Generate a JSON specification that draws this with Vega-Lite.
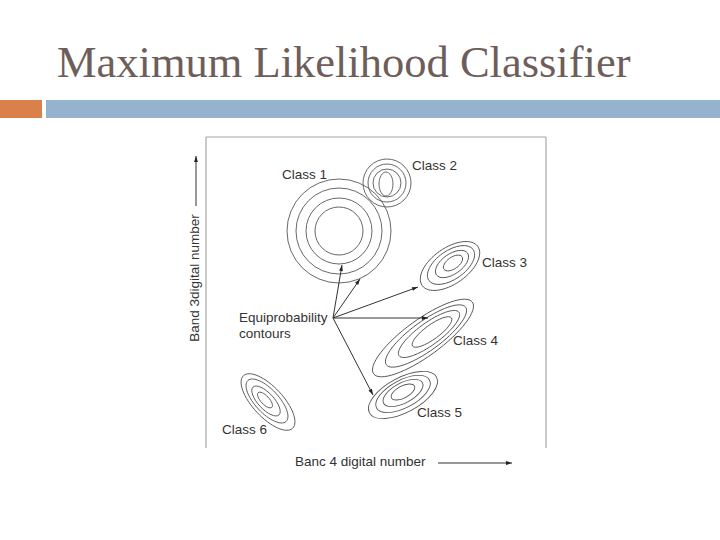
{
  "$schema": "https://vega.github.io/schema/vega-lite/v6.json",
  "width": 720,
  "height": 540,
  "autosize": {"type": "fit", "contains": "padding"},
  "padding": 0,
  "background": "white",
  "config": {"view": {"stroke": null}},
  "datasets": {
    "bars": [
      {"x": 0, "x2": 42, "y": 100, "y2": 118, "part": "accent"},
      {"x": 46, "x2": 720, "y": 100, "y2": 118, "part": "band"}
    ],
    "frame": [
      {"x": 206, "y": 137, "x2": 206, "y2": 448},
      {"x": 206, "y": 137, "x2": 546, "y2": 137},
      {"x": 546, "y": 137, "x2": 546, "y2": 448}
    ],
    "contours": [
      {"cls": "Class 1", "x": 339, "y": 231, "a": 52, "angle": 0, "form": "circle"},
      {"cls": "Class 1", "x": 339, "y": 231, "a": 43, "angle": 0, "form": "circle"},
      {"cls": "Class 1", "x": 339, "y": 231, "a": 33, "angle": 0, "form": "circle"},
      {"cls": "Class 1", "x": 339, "y": 231, "a": 24, "angle": 0, "form": "circle"},
      {"cls": "Class 2", "x": 387, "y": 183, "a": 24, "angle": 0, "form": "circle"},
      {"cls": "Class 2", "x": 387, "y": 183, "a": 19, "angle": 0, "form": "circle"},
      {"cls": "Class 2", "x": 387, "y": 183, "a": 14, "angle": 0, "form": "circle"},
      {"cls": "Class 2", "x": 386, "y": 184, "a": 12, "angle": 90, "form": "core"},
      {"cls": "Class 3", "x": 450, "y": 266, "a": 34, "angle": -35, "form": "c3"},
      {"cls": "Class 3", "x": 451, "y": 265, "a": 27, "angle": -35, "form": "c3"},
      {"cls": "Class 3", "x": 452, "y": 264, "a": 19, "angle": -35, "form": "c3"},
      {"cls": "Class 3", "x": 453, "y": 263, "a": 11, "angle": -35, "form": "c3"},
      {"cls": "Class 4", "x": 423, "y": 338, "a": 61, "angle": -36, "form": "c4"},
      {"cls": "Class 4", "x": 426, "y": 336, "a": 49, "angle": -36, "form": "c4"},
      {"cls": "Class 4", "x": 429, "y": 334, "a": 37, "angle": -36, "form": "c4"},
      {"cls": "Class 4", "x": 432, "y": 332, "a": 24, "angle": -36, "form": "c4"},
      {"cls": "Class 5", "x": 403, "y": 395, "a": 38, "angle": -28, "form": "c5"},
      {"cls": "Class 5", "x": 403, "y": 394, "a": 30, "angle": -28, "form": "c5"},
      {"cls": "Class 5", "x": 403, "y": 393, "a": 22, "angle": -28, "form": "c5"},
      {"cls": "Class 5", "x": 403, "y": 392, "a": 13, "angle": -28, "form": "c5"},
      {"cls": "Class 6", "x": 268, "y": 402, "a": 36, "angle": 47, "form": "c6"},
      {"cls": "Class 6", "x": 267, "y": 401, "a": 28, "angle": 47, "form": "c6"},
      {"cls": "Class 6", "x": 266, "y": 401, "a": 19, "angle": 47, "form": "c6"},
      {"cls": "Class 6", "x": 265, "y": 400, "a": 10, "angle": 47, "form": "c6"}
    ],
    "arrows": [
      {"x": 333, "y": 318, "x2": 342, "y2": 265},
      {"x": 333, "y": 318, "x2": 360, "y2": 279},
      {"x": 333, "y": 318, "x2": 418, "y2": 287},
      {"x": 333, "y": 318, "x2": 428, "y2": 318},
      {"x": 333, "y": 318, "x2": 373, "y2": 395},
      {"x": 196, "y": 206, "x2": 196, "y2": 156},
      {"x": 438, "y": 463, "x2": 512, "y2": 463}
    ],
    "labels": [
      {"x": 282, "y": 175, "text": "Class 1"},
      {"x": 412, "y": 166, "text": "Class 2"},
      {"x": 482, "y": 263, "text": "Class 3"},
      {"x": 453, "y": 341, "text": "Class 4"},
      {"x": 417, "y": 413, "text": "Class 5"},
      {"x": 222, "y": 430, "text": "Class 6"},
      {"x": 239, "y": 318, "text": "Equiprobability"},
      {"x": 239, "y": 334, "text": "contours"},
      {"x": 295, "y": 462, "text": "Banc 4 digital number"}
    ]
  },
  "encoding": {
    "x": {"field": "x", "type": "quantitative", "scale": {"domain": [0, 720], "nice": false, "zero": false}, "axis": null},
    "y": {"field": "y", "type": "quantitative", "scale": {"domain": [0, 540], "nice": false, "zero": false, "reverse": true}, "axis": null}
  },
  "layer": [
    {
      "data": {"name": "bars"},
      "mark": {"type": "rect"},
      "encoding": {
        "x2": {"field": "x2"},
        "y2": {"field": "y2"},
        "color": {"field": "part", "type": "nominal", "scale": {"domain": ["accent", "band"], "range": ["#d9804b", "#95b3cf"]}, "legend": null}
      }
    },
    {
      "data": {"name": "frame"},
      "mark": {"type": "rule", "color": "#a6a6a6", "strokeWidth": 1.2},
      "encoding": {
        "x2": {"field": "x2"},
        "y2": {"field": "y2"}
      }
    },
    {
      "data": {"name": "contours"},
      "mark": {"type": "point", "filled": false, "color": "#575757", "strokeWidth": 0.9, "opacity": 1},
      "encoding": {
        "size": {"field": "a", "type": "quantitative", "scale": {"type": "pow", "exponent": 2, "domain": [0, 100], "range": [0, 40000]}, "legend": null},
        "angle": {"field": "angle", "type": "quantitative", "scale": null},
        "shape": {
          "field": "form", "type": "nominal", "legend": null,
          "scale": {
            "domain": ["circle", "core", "c3", "c4", "c5", "c6"],
            "range": [
              "circle",
              "M -1 0 C -1 -0.3203 -0.5523 -0.58 0 -0.58 C 0.5523 -0.58 1 -0.3203 1 0 C 1 0.3203 0.5523 0.58 0 0.58 C -0.5523 0.58 -1 0.3203 -1 0 Z",
              "M -1 0 C -1 -0.2927 -0.5523 -0.53 0 -0.53 C 0.5523 -0.53 1 -0.2927 1 0 C 1 0.2927 0.5523 0.53 0 0.53 C -0.5523 0.53 -1 0.2927 -1 0 Z",
              "M -1 0 C -1 -0.1657 -0.5523 -0.3 0 -0.3 C 0.5523 -0.3 1 -0.1657 1 0 C 1 0.1657 0.5523 0.3 0 0.3 C -0.5523 0.3 -1 0.1657 -1 0 Z",
              "M -1 0 C -1 -0.2541 -0.5523 -0.46 0 -0.46 C 0.5523 -0.46 1 -0.2541 1 0 C 1 0.2541 0.5523 0.46 0 0.46 C -0.5523 0.46 -1 0.2541 -1 0 Z",
              "M -1 0 C -1 -0.2320 -0.5523 -0.42 0 -0.42 C 0.5523 -0.42 1 -0.2320 1 0 C 1 0.2320 0.5523 0.42 0 0.42 C -0.5523 0.42 -1 0.2320 -1 0 Z"
            ]
          }
        }
      }
    },
    {
      "data": {"name": "arrows"},
      "mark": {"type": "rule", "color": "#333333", "strokeWidth": 1},
      "encoding": {
        "x2": {"field": "x2"},
        "y2": {"field": "y2"}
      }
    },
    {
      "data": {"name": "arrows"},
      "transform": [
        {"calculate": "atan2(datum.x2 - datum.x, datum.y - datum.y2) * 180 / PI", "as": "heading"}
      ],
      "mark": {"type": "point", "filled": true, "color": "#222222", "opacity": 1, "size": 144, "shape": "M 0 0 L 0.32 1 L -0.32 1 Z"},
      "encoding": {
        "x": {"field": "x2", "type": "quantitative", "scale": {"domain": [0, 720], "nice": false, "zero": false}, "axis": null},
        "y": {"field": "y2", "type": "quantitative", "scale": {"domain": [0, 540], "nice": false, "zero": false, "reverse": true}, "axis": null},
        "angle": {"field": "heading", "type": "quantitative", "scale": null}
      }
    },
    {
      "data": {"name": "labels"},
      "mark": {"type": "text", "align": "left", "baseline": "middle", "font": "Liberation Sans", "fontSize": 13.5, "color": "#333333"},
      "encoding": {
        "text": {"field": "text"}
      }
    },
    {
      "data": {"values": [{"x": 195, "y": 278, "text": "Band 3digital number"}]},
      "mark": {"type": "text", "align": "center", "baseline": "middle", "angle": 270, "font": "Liberation Sans", "fontSize": 13.5, "color": "#333333"},
      "encoding": {
        "text": {"field": "text"}
      }
    },
    {
      "data": {"values": [{"x": 57, "y": 77, "text": "Maximum Likelihood Classifier"}]},
      "mark": {"type": "text", "align": "left", "baseline": "alphabetic", "font": "Liberation Serif", "fontSize": 44.5, "color": "#6e5e59"},
      "encoding": {
        "text": {"field": "text"}
      }
    }
  ]
}
